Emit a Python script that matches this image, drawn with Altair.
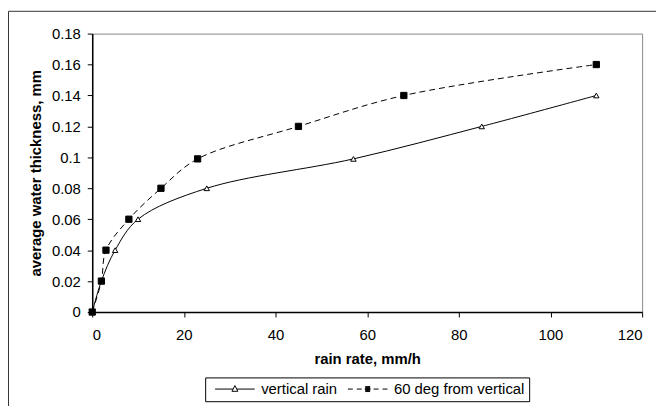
import altair as alt
import pandas as pd

# ---- data ----
series_names = ["vertical rain", "60 deg from vertical"]

vertical_x = [0, 2, 5, 10, 25, 57, 85, 110]
vertical_y = [0, 0.02, 0.04, 0.06, 0.08, 0.099, 0.12, 0.14]

slanted_x = [0, 2, 3, 8, 15, 23, 45, 68, 110]
slanted_y = [0, 0.02, 0.04, 0.06, 0.08, 0.099, 0.12, 0.14, 0.16]

x_ticks = [0, 20, 40, 60, 80, 100, 120]
y_ticks = [0, 0.02, 0.04, 0.06, 0.08, 0.1, 0.12, 0.14, 0.16, 0.18]

x_title = "rain rate, mm/h"
y_title = "average water thickness, mm"

df = pd.concat([
    pd.DataFrame({"x": vertical_x, "y": vertical_y, "series": series_names[0]}),
    pd.DataFrame({"x": slanted_x, "y": slanted_y, "series": series_names[1]}),
], ignore_index=True)

W, H = 555, 281
FONT = "Liberation Sans"

x_enc = alt.X("x:Q", scale=alt.Scale(domain=[0, 120], nice=False),
              axis=alt.Axis(values=x_ticks, title=x_title, format="d"))
y_enc = alt.Y("y:Q", scale=alt.Scale(domain=[0, 0.18], nice=False),
              axis=alt.Axis(values=y_ticks, title=y_title, format=".2~f"))

base = alt.Chart(df)

# chart-area frame (decoration)
frame = alt.Chart(pd.DataFrame({"k": [0]})).mark_rect(
    fillOpacity=0, stroke="#333333", strokeWidth=1
).encode(
    x=alt.value(-84.5), x2=alt.value(W + 200),
    y=alt.value(-22.5), y2=alt.value(H + 200)
)

line_v = base.transform_filter(alt.datum.series == series_names[0]).mark_line(
    color="black", strokeWidth=1, interpolate="catmull-rom"
).encode(x=x_enc, y=y_enc)

line_s = base.transform_filter(alt.datum.series == series_names[1]).mark_line(
    color="black", strokeWidth=1, strokeDash=[6, 4], interpolate="catmull-rom"
).encode(x=x_enc, y=y_enc)

pts_v = base.transform_filter(alt.datum.series == series_names[0]).mark_point(
    shape="triangle-up", size=30, filled=True, fill="white", stroke="black",
    strokeWidth=1, opacity=1
).encode(x=x_enc, y=y_enc)

pts_s = base.transform_filter(alt.datum.series == series_names[1]).mark_point(
    shape="square", size=40, filled=True, fill="black", stroke="black",
    strokeWidth=1, opacity=1
).encode(x=x_enc, y=y_enc)

# legend symbols: line (or dashes) with the marker, drawn by stroke only
tri_path = "M-4,0H-0.4M0.4,0H4M0,-0.7L0.6,0.45H-0.6Z"
sq_path = ("M-4,0H-3M-2.2,0H-1.2M-0.6,0H0.6M1.2,0H2.2M3,0H4"
           "M-0.5,-0.5H0.5M-0.5,-0.3H0.5M-0.5,-0.1H0.5"
           "M-0.5,0.1H0.5M-0.5,0.3H0.5M-0.5,0.5H0.5")

legend_layer = base.transform_filter("false").mark_point(
    filled=False, color="black", strokeWidth=1, opacity=1
).encode(
    x=x_enc, y=y_enc,
    shape=alt.Shape(
        "series:N",
        scale=alt.Scale(domain=series_names, range=[tri_path, sq_path]),
        legend=alt.Legend(
            title=None, orient="none", legendX=114, legendY=347,
            direction="horizontal",
            strokeColor="black", fillColor="white", padding=4, cornerRadius=0,
            symbolSize=100, symbolStrokeWidth=1, symbolStrokeColor="black",
            symbolOffset=18.5, labelOffset=19, columnPadding=4,
            labelFont=FONT, labelFontSize=15, labelColor="black",
        ),
    ),
)

chart = alt.layer(frame, line_v, line_s, pts_v, pts_s, legend_layer).properties(
    width=W, height=H,
    autosize=alt.AutoSizeParams(type="none"),
    padding={"left": 85, "top": 24, "right": 14, "bottom": 93},
    background="white",
).configure_view(
    stroke="#888888", strokeWidth=1
).configure_axis(
    grid=False,
    labelFont=FONT, labelFontSize=15, labelColor="black",
    titleFont=FONT, titleFontSize=15, titleFontWeight="bold", titleColor="black",
    domainColor="black", domainWidth=1.5,
    tickColor="black", tickSize=5, tickWidth=1,
).configure_axisX(
    labelPadding=11, titlePadding=9
).configure_axisY(
    labelPadding=7, titlePadding=8
)

chart.save("out.html", embed_options={"renderer": "svg", "actions": False})
